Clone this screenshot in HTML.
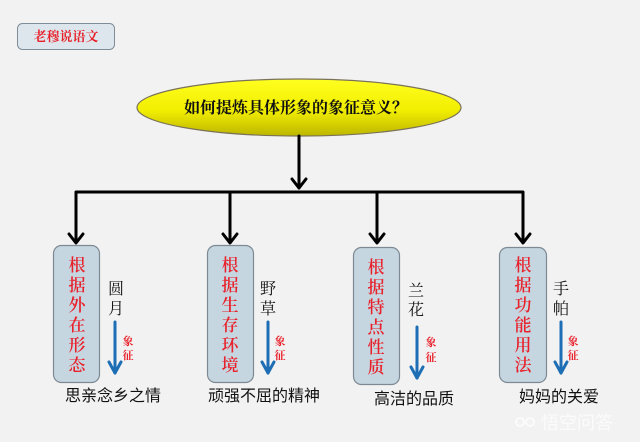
<!DOCTYPE html>
<html><head><meta charset="utf-8">
<style>
html,body{margin:0;padding:0;background:#f2f2f2;}
svg{display:block;}
.serif{font-family:"Liberation Serif","Noto Serif CJK SC",serif;}
.sans{font-family:"Liberation Sans","Noto Sans CJK SC",sans-serif;}
</style></head>
<body>
<svg width="640" height="442" viewBox="0 0 640 442" xmlns="http://www.w3.org/2000/svg">
<defs>
<linearGradient id="yg" x1="0" y1="0" x2="0" y2="1">
<stop offset="0" stop-color="#ffff20"/>
<stop offset="0.55" stop-color="#f2ee00"/>
<stop offset="1" stop-color="#bdb600"/>
</linearGradient>
</defs>
<rect width="640" height="442" fill="#f2f2f2"/>

<!-- top label -->
<rect x="17.5" y="23.5" width="97" height="26" rx="5" fill="#dde6ec" stroke="#7f8d99" stroke-width="1"/>
<text x="66" y="41" text-anchor="middle" class="serif" font-size="13" font-weight="bold" fill="#e8202a">老穆说语文</text>

<!-- ellipse -->
<ellipse cx="299" cy="107.5" rx="162" ry="28.5" fill="url(#yg)" stroke="#7a7258" stroke-width="1.2"/>
<text x="296" y="113" text-anchor="middle" class="serif" font-size="16" font-weight="bold" fill="#111">如何提炼具体形象的象征意义？</text>

<!-- connectors -->
<g stroke="#000" stroke-width="3" fill="none" stroke-linecap="round" stroke-linejoin="round">
<line x1="299" y1="136" x2="299" y2="188"/>
<polyline points="292,179 299,188 306,179"/>
<polyline points="76,242 76,192 523,192 523,242"/>
<line x1="230" y1="192" x2="230" y2="242"/>
<line x1="377" y1="192" x2="377" y2="242"/>
<polyline points="69,234 76,243 83,234"/>
<polyline points="223,234 230,243 237,234"/>
<polyline points="370,234 377,243 384,234"/>
<polyline points="516,234 523,243 530,234"/>
</g>

<!-- boxes -->
<g fill="#c6d6e0" stroke="#7d8a94" stroke-width="1.2">
<rect x="53.5" y="245.5" width="46" height="137" rx="8"/>
<rect x="207.5" y="245.5" width="46" height="137" rx="8"/>
<rect x="353.5" y="247.5" width="46" height="137" rx="8"/>
<rect x="499.5" y="247.5" width="47" height="135" rx="8"/>
</g>

<g class="serif" font-size="17" font-weight="600" fill="#e8202a" text-anchor="middle">
<text x="77" y="271">根</text><text x="77" y="291">据</text><text x="77" y="311">外</text><text x="77" y="331">在</text><text x="77" y="351">形</text><text x="77" y="371">态</text>
<text x="230" y="271">根</text><text x="230" y="291">据</text><text x="230" y="311">生</text><text x="230" y="331">存</text><text x="230" y="351">环</text><text x="230" y="371">境</text>
<text x="376" y="273">根</text><text x="376" y="293">据</text><text x="376" y="313">特</text><text x="376" y="333">点</text><text x="376" y="353">性</text><text x="376" y="373">质</text>
<text x="523" y="271">根</text><text x="523" y="291">据</text><text x="523" y="311">功</text><text x="523" y="331">能</text><text x="523" y="351">用</text><text x="523" y="371">法</text>
</g>

<!-- black item labels -->
<g class="serif" font-size="16" fill="#111" text-anchor="middle">
<text x="116" y="294">圆</text><text x="116" y="314">月</text>
<text x="268" y="294">野</text><text x="268" y="314">草</text>
<text x="416" y="296">兰</text><text x="416" y="315">花</text>
<text x="561" y="294">手</text><text x="561" y="314">帕</text>
</g>

<!-- blue arrows -->
<g stroke="#1e6eb5" stroke-width="3" fill="none" stroke-linecap="round" stroke-linejoin="round">
<line x1="115" y1="322" x2="115" y2="373"/><polyline points="109,362 115,373 121,362"/>
<line x1="268" y1="322" x2="268" y2="373"/><polyline points="262,362 268,373 274,362"/>
<line x1="417" y1="327" x2="417" y2="378"/><polyline points="411,367 417,378 423,367"/>
<line x1="561" y1="322" x2="561" y2="373"/><polyline points="555,362 561,373 567,362"/>
</g>

<g class="serif" font-size="11" font-weight="bold" fill="#e8202a" text-anchor="middle">
<text x="128" y="345">象</text><text x="128" y="359">征</text>
<text x="280" y="345">象</text><text x="280" y="359">征</text>
<text x="431" y="346">象</text><text x="431" y="361">征</text>
<text x="573" y="345">象</text><text x="573" y="359">征</text>
</g>

<!-- bottom labels -->
<g class="sans" font-size="16" fill="#111">
<text x="65" y="401">思亲念乡之情</text>
<text x="208" y="401">顽强不屈的精神</text>
<text x="374" y="404">高洁的品质</text>
<text x="519" y="402">妈妈的关爱</text>
</g>

<!-- watermark -->
<g opacity="0.75">
<circle cx="520" cy="422" r="4" fill="none" stroke="#ffffff" stroke-width="2"/>
<circle cx="530" cy="422" r="4" fill="none" stroke="#ffffff" stroke-width="2"/>
<text x="541" y="429" class="sans" font-size="18" fill="#ffffff">悟空问答</text>
</g>
</svg>
</body></html>
